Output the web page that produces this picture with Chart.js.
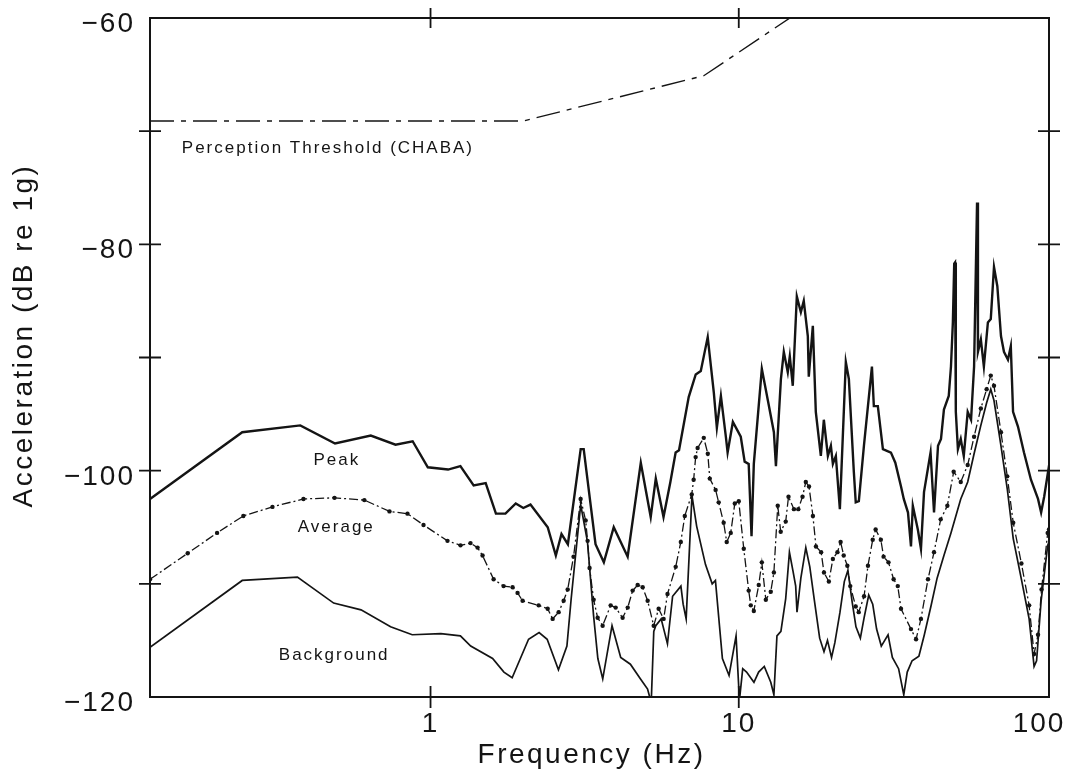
<!DOCTYPE html>
<html lang="en">
<head>
    <meta charset="UTF-8">
    <title>Acceleration spectrum</title>
    <script src="https://cdn.jsdelivr.net/npm/chart.js@4.4.1/dist/chart.umd.min.js"></script>
    <style>
        html, body { margin: 0; padding: 0; background: #fff; }
    </style>
</head>
<body>
    <canvas id="spectrum" width="1069" height="774"></canvas>
    <script>
        // values: frequency in Hz, level in dB re 1g
        const thresholdFreq = [0.123, 2.0, 7.7, 16.0];
        const thresholdDb = [-69.1, -69.1, -65.1, -59.3];

        const peakFreq = [0.123, 0.245, 0.378, 0.49, 0.64, 0.77, 0.875, 0.98, 1.14, 1.25,
            1.38, 1.51, 1.63, 1.75, 1.89, 2.0, 2.11, 2.4, 2.55, 2.66,
            2.79, 3.07, 3.14, 3.43, 3.65, 3.93, 4.36, 4.81, 5.18, 5.38,
            5.7, 6.0, 6.24, 6.4, 6.88, 7.25, 7.53, 7.7, 7.93, 8.3,
            8.49, 8.75, 9.08, 9.2, 9.57, 10.15, 10.45, 10.77, 11.0, 11.19,
            11.88, 12.43, 13.0, 13.2, 13.7, 14.0, 14.42, 14.64, 14.97, 15.43,
            15.9, 16.25, 16.75, 16.87, 17.39, 17.78, 18.46, 18.88, 19.46, 19.9,
            20.2, 20.65, 21.28, 22.25, 22.76, 23.62, 23.96, 24.52, 25.47, 27.04,
            27.43, 28.26, 29.35, 31.17, 32.2, 33.6, 34.3, 35.4, 36.2, 36.7,
            38.1, 39.0, 39.9, 41.9, 43.0, 44.3, 45.3, 46.3, 48.0, 48.8,
            49.5, 50.0, 50.3, 50.6, 51.4, 52.5, 53.7, 55.3, 56.7, 58.0,
            59.3, 59.7, 61.0, 62.4, 64.3, 65.7, 67.3, 69.0, 70.9, 72.5,
            74.7, 76.3, 77.6, 80.5, 84.2, 88.7, 93.5, 95.7, 97.9, 100.8,
            101.5];
        const peakDb = [-102.5, -96.6, -96.0, -97.6, -96.9, -97.7, -97.4, -99.7, -99.9, -99.6,
            -101.3, -101.1, -103.8, -103.8, -102.9, -103.3, -103.0, -105.0, -107.5, -105.6,
            -106.5, -98.1, -98.1, -106.5, -108.1, -105.0, -107.6, -99.3, -104.1, -100.7,
            -104.1, -101.0, -98.4, -98.2, -93.5, -91.5, -91.2, -89.9, -88.2, -93.1,
            -96.2, -93.4, -97.0, -98.4, -95.7, -97.0, -99.2, -99.4, -105.8, -99.4,
            -91.0, -93.8, -96.6, -99.6, -91.9, -89.5, -91.3, -89.9, -92.5, -84.6,
            -86.0, -85.0, -88.1, -91.7, -87.2, -94.8, -98.7, -95.5, -98.7, -97.8,
            -99.4, -98.7, -103.4, -90.4, -91.9, -100.1, -102.8, -102.7, -97.8, -90.8,
            -94.3, -94.3, -98.1, -98.4, -99.3, -101.4, -102.5, -103.7, -106.7, -103.1,
            -105.2, -106.9, -101.9, -98.4, -103.7, -97.8, -97.2, -94.6, -93.4, -90.8,
            -86.9, -81.7, -81.6, -94.8, -98.1, -97.2, -98.7, -94.8, -95.5, -90.8,
            -76.3, -89.5, -88.4, -90.8, -86.9, -86.6, -82.0, -83.7, -88.1, -89.5,
            -90.2, -89.0, -94.8, -96.1, -98.4, -100.8, -102.5, -103.7, -102.3, -100.1,
            -100.5];

        const avgFreq = [0.123, 0.163, 0.203, 0.247, 0.307, 0.387, 0.488, 0.61, 0.736, 0.842,
            0.949, 1.135, 1.251, 1.348, 1.421, 1.475, 1.602, 1.726, 1.846, 1.916,
            1.989, 2.243, 2.399, 2.49, 2.604, 2.703, 2.786, 2.911, 3.069, 3.186,
            3.233, 3.281, 3.382, 3.485, 3.617, 3.841, 3.987, 4.199, 4.362, 4.527,
            4.699, 4.878, 5.063, 5.297, 5.496, 5.705, 5.873, 6.243, 6.486, 6.681,
            7.038, 7.139, 7.246, 7.354, 7.7, 7.934, 8.053, 8.412, 8.607, 8.933,
            9.14, 9.418, 9.708, 10.0, 10.38, 10.77, 10.94, 11.19, 11.61, 11.88,
            12.24, 12.7, 13.0, 13.38, 13.68, 14.2, 14.5, 15.1, 15.6, 16.1,
            16.5, 16.9, 17.4, 17.8, 18.5, 18.9, 19.6, 20.2, 20.9, 21.4,
            21.9, 22.5, 23.0, 23.96, 24.5, 25.5, 26.25, 27.2, 27.8, 28.9,
            29.5, 30.6, 31.8, 32.8, 33.6, 36.2, 37.6, 39.0, 41.1, 43.0,
            45.2, 47.5, 49.8, 52.5, 55.3, 58.0, 61.0, 63.7, 65.7, 67.3,
            70.9, 74.3, 77.7, 82.6, 87.5, 90.8, 93.5, 96.0, 100.5, 101.5];
        const avgDb = [-109.6, -107.3, -105.5, -104.0, -103.2, -102.5, -102.4, -102.6, -103.6, -103.8,
            -104.8, -106.2, -106.6, -106.4, -106.8, -107.5, -109.6, -110.2, -110.3, -110.8,
            -111.5, -111.9, -112.2, -113.1, -112.5, -111.5, -110.5, -107.6, -102.5, -104.4,
            -106.2, -108.6, -111.4, -113.0, -113.7, -111.9, -112.1, -113.0, -112.1, -110.6,
            -110.1, -110.3, -111.5, -113.7, -112.2, -113.1, -110.9, -108.5, -106.3, -104.0,
            -102.1, -100.8, -98.8, -98.0, -97.1, -98.5, -100.7, -101.7, -102.8, -104.6,
            -106.3, -105.5, -102.9, -102.7, -106.9, -110.6, -111.9, -112.4, -110.1, -108.1,
            -111.4, -110.7, -109.0, -103.1, -105.4, -104.5, -102.3, -103.4, -103.4, -102.3,
            -101.0, -101.4, -104.0, -106.7, -107.2, -109.0, -109.8, -107.8, -107.2, -106.3,
            -107.5, -108.4, -110.2, -112.0, -112.5, -111.1, -108.4, -106.1, -105.2, -106.1,
            -107.6, -108.1, -109.6, -110.2, -112.2, -114.0, -114.9, -113.1, -109.6, -107.2,
            -104.3, -103.1, -100.1, -101.0, -99.5, -97.0, -94.5, -92.8, -91.6, -92.5,
            -96.6, -100.5, -104.6, -108.2, -111.9, -116.2, -114.5, -110.5, -105.5, -105.2];

        const bgFreq = [0.123, 0.245, 0.37, 0.485, 0.595, 0.742, 0.872, 1.08, 1.25, 1.35,
            1.59, 1.73, 1.84, 2.08, 2.25, 2.39, 2.6, 2.77, 2.86, 3.07,
            3.23, 3.38, 3.49, 3.62, 3.88, 4.14, 4.45, 4.8, 5.06, 5.2,
            5.3, 5.38, 5.6, 5.87, 6.1, 6.49, 6.6, 6.75, 7.05, 7.3,
            7.8, 8.2, 8.4, 8.85, 9.3, 9.8, 10.05, 10.3, 10.6, 11.2,
            11.6, 12.1, 12.7, 13.0, 13.3, 13.7, 14.2, 14.6, 15.0, 15.3,
            15.45, 15.9, 16.5, 17.0, 17.6, 18.3, 18.9, 19.4, 20.0, 20.5,
            21.3, 22.0, 22.6, 23.3, 24.0, 24.8, 25.5, 26.4, 27.2, 28.0,
            29.0, 30.5, 31.5, 33.0, 34.3, 35.2, 36.5, 38.4, 40.0, 42.0,
            44.0, 46.3, 48.8, 52.5, 55.3, 58.0, 61.0, 63.7, 65.7, 67.3,
            70.9, 74.3, 77.7, 82.6, 87.5, 90.8, 92.5, 95.7, 100.5, 101.5];
        const bgDb = [-115.6, -109.7, -109.4, -111.7, -112.3, -113.8, -114.5, -114.4, -114.6, -115.5,
            -116.6, -117.8, -118.3, -114.9, -114.3, -114.9, -117.6, -115.5, -111.3, -103.0,
            -106.3, -112.8, -116.6, -118.4, -113.7, -116.5, -117.1, -118.4, -119.3, -120.5,
            -114.2, -113.7, -113.1, -115.3, -111.1, -110.2, -111.8, -113.1, -102.2, -104.9,
            -108.3, -110.0, -109.7, -116.6, -118.1, -114.6, -120.3, -117.5, -117.8, -118.7,
            -117.8, -117.3, -118.7, -119.8, -114.6, -114.2, -111.3, -107.2, -108.9, -110.2,
            -112.5, -109.5, -106.8, -108.5, -111.5, -114.8, -116.0, -115.0, -116.5, -115.2,
            -112.5, -109.8, -108.8, -111.5, -113.8, -114.8, -113.0, -111.0, -111.8, -114.0,
            -115.5, -114.5, -116.5, -117.5, -119.8, -117.8, -116.8, -116.4, -114.5, -112.0,
            -109.5, -107.5, -105.5, -102.5, -101.0, -98.5, -96.0, -94.0, -92.8, -93.8,
            -97.8, -101.6, -106.0, -109.6, -113.1, -117.3, -116.8, -111.5, -106.6, -106.3];

        // axis ticks and labels
        const xTickValues = [1, 10];
        const xLabelValues = [1, 10, 100];
        const yTickValues = [-70, -80, -90, -100, -110];
        const yLabelValues = [-60, -80, -100, -120];

        // text written inside the plot, anchored in data units
        const noteText = ['Perception Threshold (CHABA)', 'Peak', 'Average', 'Background'];
        const noteFreq = [0.156, 0.417, 0.371, 0.322];
        const noteDb = [-71.95, -99.5, -105.4, -116.7];

        const ink = '#141414';
        const family = '"Liberation Sans", Arial, Helvetica, sans-serif';

        function points(freq, db) {
            return freq.map((f, i) => ({ x: f, y: db[i] }));
        }

        // frame, crossing tick marks, tick labels, axis titles and notes
        const frameAndText = {
            id: 'frameAndText',
            afterDatasetsDraw(chart) {
                const { ctx, chartArea: a, scales: { x, y } } = chart;
                ctx.save();
                ctx.strokeStyle = ink;
                ctx.fillStyle = ink;
                ctx.lineWidth = 2;
                ctx.strokeRect(a.left, a.top, a.right - a.left, a.bottom - a.top);

                ctx.lineWidth = 1.8;
                ctx.beginPath();
                yTickValues.forEach(v => {
                    const py = y.getPixelForValue(v);
                    ctx.moveTo(a.left - 11, py); ctx.lineTo(a.left + 11, py);
                    ctx.moveTo(a.right - 11, py); ctx.lineTo(a.right + 11, py);
                });
                xTickValues.forEach(v => {
                    const px = x.getPixelForValue(v);
                    ctx.moveTo(px, a.bottom - 11); ctx.lineTo(px, a.bottom + 11);
                    ctx.moveTo(px, a.top - 10); ctx.lineTo(px, a.top + 10);
                });
                ctx.stroke();

                ctx.font = '28px ' + family;
                ctx.letterSpacing = '2px';
                ctx.textBaseline = 'alphabetic';
                ctx.textAlign = 'right';
                yLabelValues.forEach(v => {
                    ctx.fillText('\u2212' + Math.abs(v), a.left - 15, y.getPixelForValue(v) + 14);
                });
                ctx.textAlign = 'center';
                xLabelValues.forEach(v => {
                    let px = x.getPixelForValue(v);
                    if (px > a.right - 10) px -= 8;
                    ctx.fillText(String(v), px, a.bottom + 35);
                });

                ctx.letterSpacing = '2.5px';
                ctx.fillText('Frequency (Hz)', (a.left + a.right) / 2 - 8, a.bottom + 66);
                ctx.save();
                ctx.translate(24, (a.top + a.bottom) / 2 - 22);
                ctx.rotate(-Math.PI / 2);
                ctx.textBaseline = 'middle';
                ctx.fillText('Acceleration (dB re 1g)', 0, 0);
                ctx.restore();

                ctx.font = '17px ' + family;
                ctx.letterSpacing = '2px';
                ctx.textAlign = 'left';
                ctx.textBaseline = 'alphabetic';
                noteText.forEach((t, i) => {
                    ctx.fillText(t, x.getPixelForValue(noteFreq[i]), y.getPixelForValue(noteDb[i]));
                });
                ctx.restore();
            }
        };

        new Chart(document.getElementById('spectrum'), {
            type: 'line',
            data: {
                datasets: [{
                    label: 'Perception Threshold (CHABA)',
                    data: points(thresholdFreq, thresholdDb),
                    borderColor: ink,
                    borderWidth: 1.4,
                    borderDash: [24, 7, 5, 7],
                    pointRadius: 0
                }, {
                    label: 'Background',
                    data: points(bgFreq, bgDb),
                    borderColor: ink,
                    borderWidth: 1.7,
                    pointRadius: 0
                }, {
                    label: 'Average',
                    data: points(avgFreq, avgDb),
                    borderColor: ink,
                    borderWidth: 1.3,
                    borderDash: [9, 3, 2, 3],
                    pointRadius: 2.2,
                    pointBorderWidth: 0,
                    pointBackgroundColor: ink
                }, {
                    label: 'Peak',
                    data: points(peakFreq, peakDb),
                    borderColor: ink,
                    borderWidth: 2.4,
                    pointRadius: 0
                }]
            },
            options: {
                responsive: false,
                devicePixelRatio: 1,
                animation: false,
                layout: { padding: { left: 150, right: 20, top: 18, bottom: 77 } },
                elements: { line: { tension: 0 } },
                plugins: {
                    legend: { display: false },
                    tooltip: { enabled: false }
                },
                scales: {
                    x: { type: 'logarithmic', min: 0.123, max: 101.5, display: false },
                    y: { type: 'linear', min: -120, max: -60, display: false }
                }
            },
            plugins: [frameAndText]
        });
    </script>
</body>
</html>
